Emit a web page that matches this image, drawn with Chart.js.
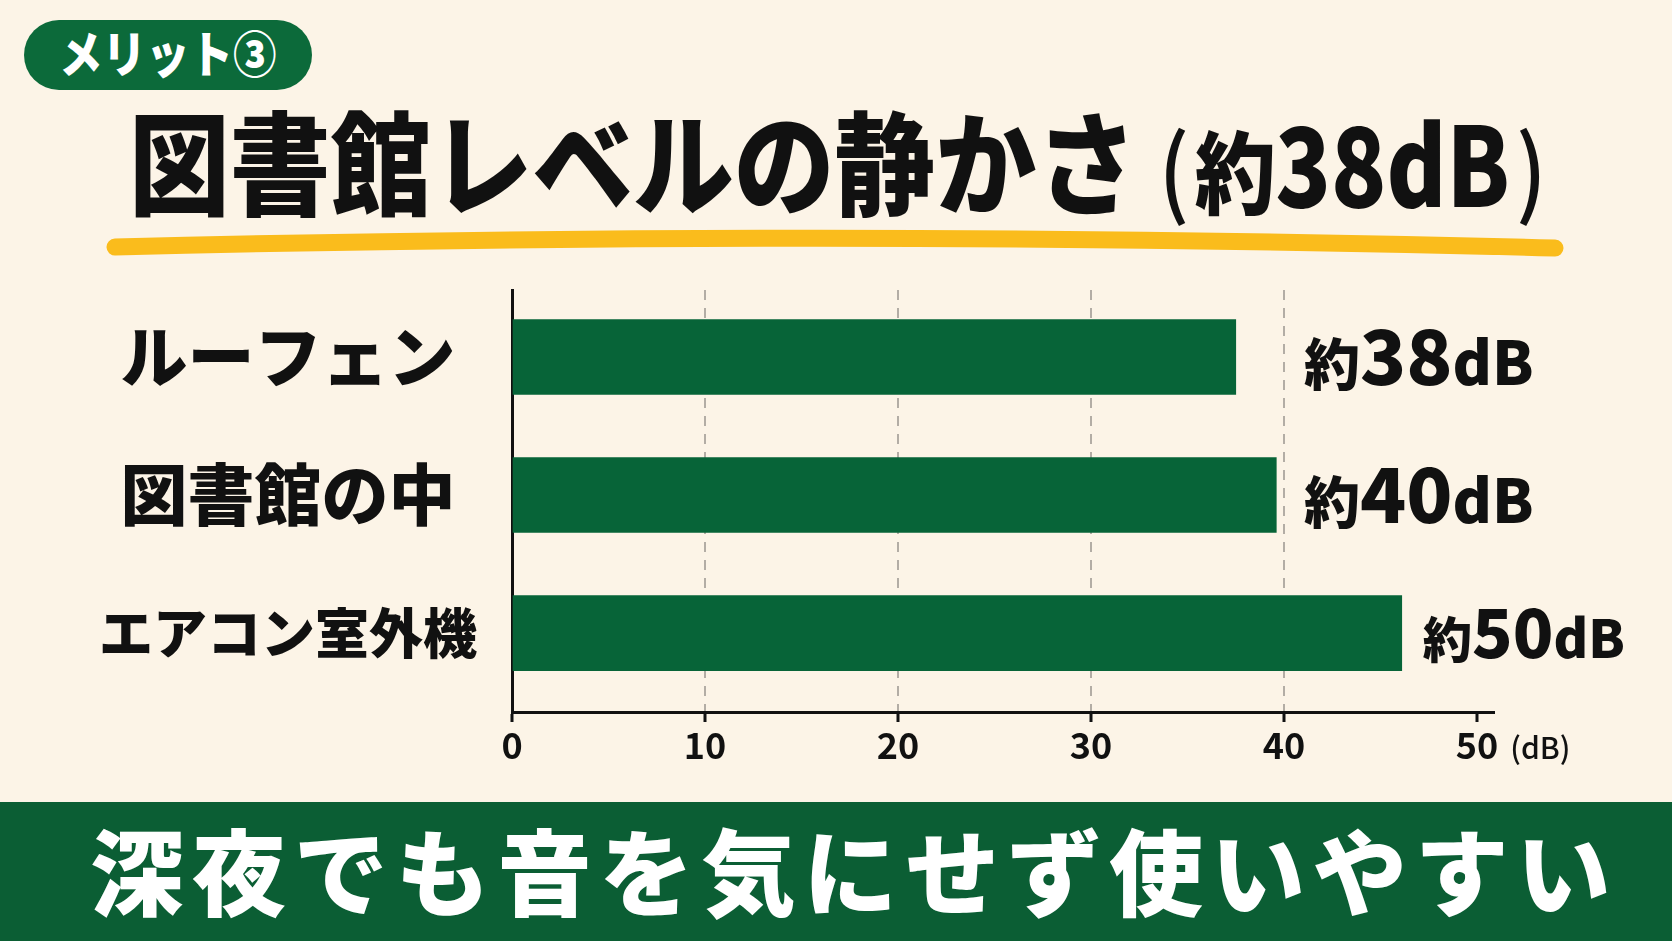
<!DOCTYPE html>
<html><head><meta charset="utf-8">
<script src="https://cdn.jsdelivr.net/npm/chart.js@4.4.1/dist/chart.umd.min.js"></script>
<style>
html,body{margin:0;padding:0;}
body{width:1672px;height:941px;position:relative;overflow:hidden;background:#FCF4E7;font-family:"Noto Sans CJK JP","Noto Sans",sans-serif;}
#pill{position:absolute;left:24px;top:20px;width:288px;height:70px;border-radius:35px;background:#0C6A3A;color:#fff;font-weight:900;font-size:50px;line-height:70px;box-sizing:border-box;padding-left:35px;white-space:nowrap;}
#pill span{display:inline-block;position:relative;top:-4px;transform:scaleX(0.87);transform-origin:0 0;}
#title{position:absolute;left:129px;top:77px;font-size:112px;line-height:162px;font-weight:900;color:#111;white-space:nowrap;transform:scaleX(0.9);transform-origin:0 0;}
#title .p1{font-size:96px;font-weight:500;margin-left:24px;}
#title .y{font-size:90px;margin-left:6px;}
#title .nw{display:inline-block;width:257px;white-space:nowrap;}
#title .n{display:inline-block;font-size:110px;transform:scaleX(0.92);transform-origin:0 0;}
#title .p2{font-size:96px;font-weight:500;margin-left:10px;}
#underline{position:absolute;left:0;top:0;}
#band{position:absolute;left:0;top:802px;width:1672px;height:139px;background:#0B5E34;}
#band span{position:absolute;left:90px;top:-3px;line-height:139px;font-size:94px;font-weight:900;color:#fff;letter-spacing:7.9px;white-space:nowrap;}
#c{position:absolute;left:0;top:0;}
</style></head>
<body>
<div id="pill"><span>メリット③</span></div>
<div id="title"><span class="m">図書館レベルの静かさ</span><span class="p1">(</span><span class="y">約</span><span class="nw"><span class="n">38dB</span></span><span class="p2">)</span></div>
<svg id="underline" width="1672" height="300"><path d="M115 247 Q835 229 1555 248" stroke="#FABC1C" stroke-width="17" stroke-linecap="round" fill="none"/></svg>
<div id="band"><span>深夜でも音を気にせず使いやすい</span></div>
<canvas id="c" width="1672" height="941"></canvas>
<script>
// Data
const categories = ['ルーフェン', '図書館の中', 'エアコン室外機'];
const barValues = [37.5, 39.6, 46.1];      // bar lengths as drawn against the dB axis
const labelValues = [38, 40, 50];          // values printed next to the bars (約..dB)
const xTickValues = [0, 10, 20, 30, 40, 50];
const labelPrefix = '約';
const labelUnit = 'dB';
const axisUnit = '(dB)';

const FONT = '"Noto Sans CJK JP", "Noto Sans", sans-serif';
const INK = '#111111';

const valueLabelPlugin = {
  id: 'valueLabels',
  afterDatasetsDraw(chart) {
    const ctx = chart.ctx;
    const meta = chart.getDatasetMeta(0);
    const xs = chart.scales.x;
    const minX = xs.getPixelForValue(40) + 20;
    meta.data.forEach((bar, i) => {
      const sc = i === 2 ? 0.88 : 1;
      let x = Math.max(bar.x + 21, minX);
      const base = bar.y + 28 * sc;
      ctx.save();
      ctx.fillStyle = INK;
      ctx.textAlign = 'left';
      ctx.textBaseline = 'alphabetic';
      const parts = [[labelPrefix, 56], [String(labelValues[i]), 76], [labelUnit, 60]];
      for (const [t, s] of parts) {
        ctx.font = `900 ${s * sc}px ${FONT}`;
        ctx.fillText(t, x, base);
        x += ctx.measureText(t).width;
      }
      ctx.restore();
    });
  },
  afterDraw(chart) {
    const ctx = chart.ctx;
    const xs = chart.scales.x;
    const last = xTickValues[xTickValues.length - 1];
    ctx.save();
    ctx.font = `700 36px ${FONT}`;
    const w = ctx.measureText(String(last)).width;
    const x = xs.getPixelForValue(last) + w / 2 + 12;
    ctx.font = `500 30px ${FONT}`;
    ctx.fillStyle = INK;
    ctx.textAlign = 'left';
    ctx.textBaseline = 'middle';
    ctx.fillText(axisUnit, x, xs.top + 10 + 2 + 21.6 + 2);
    ctx.restore();
  }
};

new Chart(document.getElementById('c'), {
  type: 'bar',
  data: {
    datasets: [{
      data: barValues.map((v, i) => ({ x: v, y: i })),
      backgroundColor: '#076438',
      borderWidth: 0,
      barThickness: 75
    }]
  },
  options: {
    indexAxis: 'y',
    responsive: false,
    animation: false,
    events: [],
    layout: { padding: { top: 290, left: 64, right: 178, bottom: 169 } },
    plugins: { legend: { display: false }, tooltip: { enabled: false }, title: { display: false } },
    scales: {
      x: {
        type: 'linear',
        position: 'bottom',
        min: 0,
        max: 50.88,
        afterFit: (s) => { s.height = 60; },
        afterBuildTicks: (s) => { s.ticks = xTickValues.map(v => ({ value: v })); },
        ticks: {
          color: INK,
          padding: 2,
          maxRotation: 0,
          font: { family: FONT, size: 36, weight: 700 }
        },
        grid: {
          color: (c) => (c.tick && (c.tick.value === 0 || c.tick.value === 50)) ? 'rgba(0,0,0,0)' : '#B3ADA5',
          lineWidth: 2,
          tickColor: INK,
          tickLength: 10,
          tickWidth: 3
        },
        border: { display: true, color: INK, width: 3, dash: [10, 8] }
      },
      y: {
        type: 'linear',
        position: 'left',
        reverse: true,
        offset: false,
        min: -0.4855,
        max: 2.572,
        afterFit: (s) => { s.width = 448; },
        afterBuildTicks: (s) => { s.ticks = categories.map((_, i) => ({ value: i })); },
        grid: { display: false, drawTicks: false, offset: false },
        border: { display: true, color: INK, width: 3 },
        ticks: {
          color: INK,
          crossAlign: 'center',
          padding: 35,
          callback: (v) => categories[v],
          font: (c) => ({ family: FONT, weight: 900, size: c.index === 2 ? 54 : 67 })
        }
      }
    }
  },
  plugins: [valueLabelPlugin]
});
</script>
</body></html>
